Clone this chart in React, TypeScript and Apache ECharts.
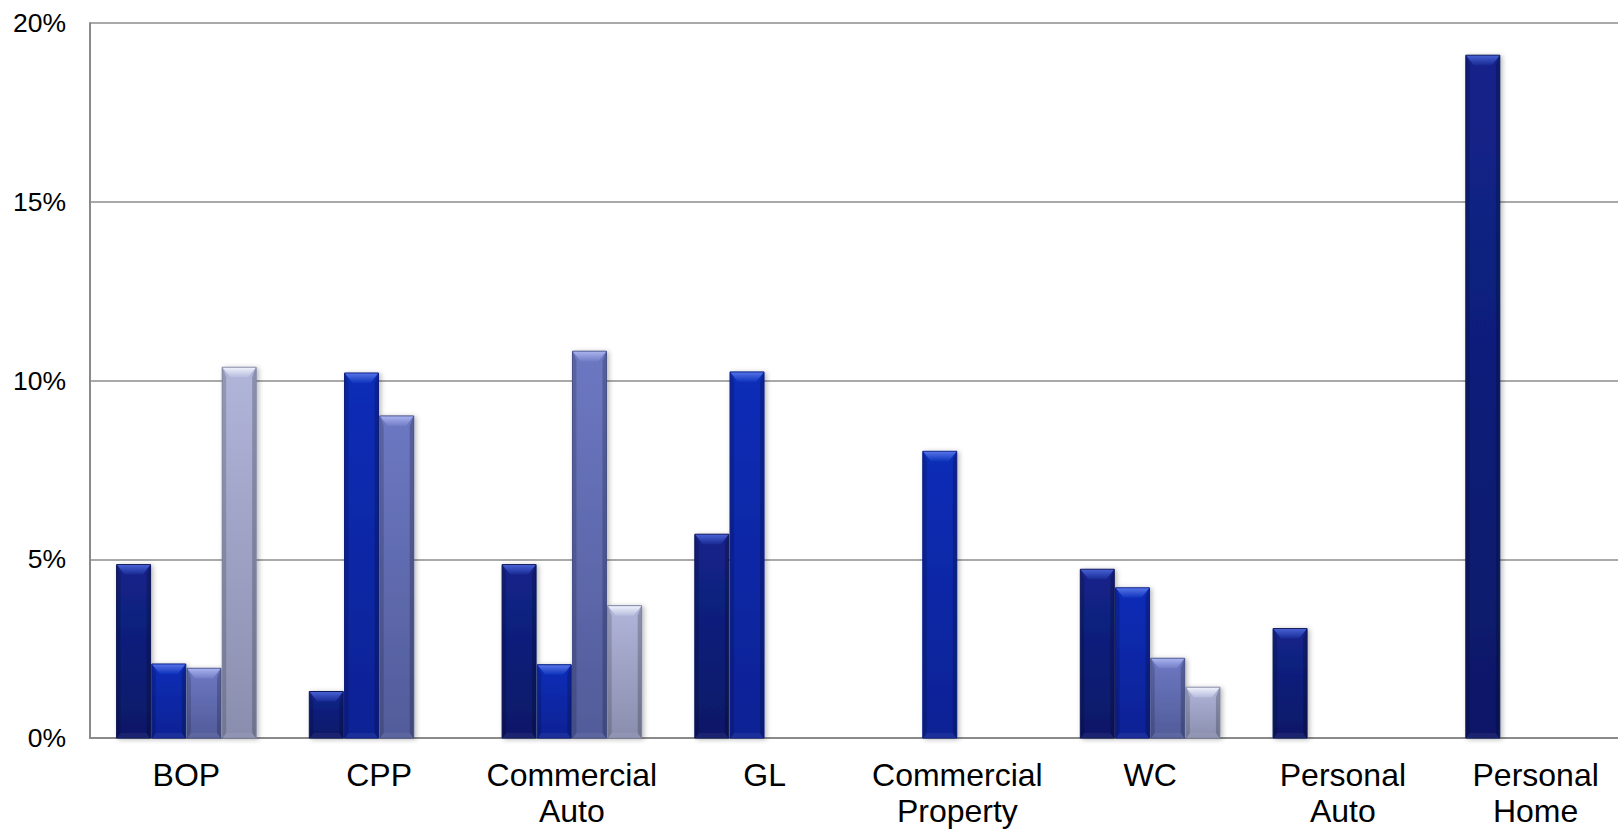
import React, { useEffect, useRef } from "react";
import * as echarts from "echarts";

// Lines of business on the x axis
const categories = [
  "BOP",
  "CPP",
  "Commercial\nAuto",
  "GL",
  "Commercial\nProperty",
  "WC",
  "Personal\nAuto",
  "Personal\nHome",
];

// Percent values per series (null = no bar)
const series1 = [4.85, 1.3, 4.85, 5.7, null, 4.72, 3.06, 19.1];
const series2 = [2.07, 10.21, 2.05, 10.24, 8.02, 4.2, null, null];
const series3 = [1.95, 9.01, 10.82, null, null, 2.23, null, null];
const series4 = [10.37, null, 3.7, null, null, 1.42, null, null];

const seriesNames = ["Series 1", "Series 2", "Series 3", "Series 4"];

// Y axis range and step
const yMin = 0;
const yMax = 20;
const yStep = 5;

const BAR_W = 34;
const BAR_GAP = 1.2;
const BEVEL = 10;
const BEVEL_INSET = 8;
const SIDE = 4;

type Palette = { top: string; bottom: string; border: string; hiTop: string; hiBottom: string };

const palettes: Palette[] = [
  { top: "#13248a", bottom: "#0b1866", border: "#0a1456", hiTop: "#4660d2", hiBottom: "#182a94" },
  { top: "#0a2db8", bottom: "#082294", border: "#081c80", hiTop: "#5572e6", hiBottom: "#0e34bc" },
  { top: "#6c78c2", bottom: "#525c9a", border: "#465088", hiTop: "#a8b2ee", hiBottom: "#727ec6" },
  { top: "#b0b5da", bottom: "#8a8eae", border: "#7c809c", hiTop: "#eef0fc", hiBottom: "#b6bcdc" },
];

const makeRender = (slot: number, pal: Palette) => (_params: any, api: any) => {
  const cat = api.value(0);
  const val = api.value(1);
  const base = api.coord([cat, 0]);
  const tip = api.coord([cat, val]);
  const x = base[0] + (slot - 1.5) * (BAR_W + BAR_GAP) - BAR_W / 2;
  const y0 = base[1];
  const y1 = tip[1];
  const h = y0 - y1;
  const bev = Math.min(BEVEL, h / 2);
  const inset = Math.min(BEVEL_INSET, (bev / BEVEL) * BEVEL_INSET);
  return {
    type: "group",
    children: [
      {
        type: "rect",
        shape: { x, y: y1, width: BAR_W, height: h },
        style: {
          fill: new echarts.graphic.LinearGradient(0, 0, 0, 1, [
            { offset: 0, color: pal.top },
            { offset: 1, color: pal.bottom },
          ]),
          stroke: pal.border,
          lineWidth: 1,
          shadowBlur: 5,
          shadowColor: "rgba(0,0,0,0.28)",
          shadowOffsetX: 2,
          shadowOffsetY: 1,
        },
      },
      {
        type: "polygon",
        shape: {
          points: [
            [x + 0.5, y1 + 0.5],
            [x + SIDE, y1 + bev],
            [x + SIDE, y0 - bev / 2],
            [x + 0.5, y0],
          ],
        },
        style: { fill: "rgba(0,0,0,0.16)" },
      },
      {
        type: "polygon",
        shape: {
          points: [
            [x + BAR_W - 0.5, y1 + 0.5],
            [x + BAR_W - SIDE, y1 + bev],
            [x + BAR_W - SIDE, y0 - bev / 2],
            [x + BAR_W - 0.5, y0],
          ],
        },
        style: { fill: "rgba(0,0,0,0.2)" },
      },
      {
        type: "polygon",
        shape: {
          points: [
            [x + 0.5, y1 + 0.5],
            [x + BAR_W - 0.5, y1 + 0.5],
            [x + BAR_W - inset, y1 + bev],
            [x + inset, y1 + bev],
          ],
        },
        style: {
          fill: new echarts.graphic.LinearGradient(0, 0, 0, 1, [
            { offset: 0, color: pal.hiTop },
            { offset: 1, color: pal.hiBottom },
          ]),
        },
      },
      {
        type: "polygon",
        shape: {
          points: [
            [x + 0.5, y0],
            [x + BAR_W - 0.5, y0],
            [x + BAR_W - inset / 2, y0 - bev / 2],
            [x + inset / 2, y0 - bev / 2],
          ],
        },
        style: { fill: "rgba(255,255,255,0.06)" },
      },
    ],
  };
};

const toData = (vals: (number | null)[]) =>
  vals.map((v, i) => (v == null ? null : [i, v])).filter((d) => d !== null);

export default function App() {
  const ref = useRef<HTMLDivElement>(null);

  useEffect(() => {
    if (!ref.current) return;
    const chart = echarts.init(ref.current, undefined, { renderer: "svg" });
    const all = [series1, series2, series3, series4];
    const font = "'Liberation Sans', Arial, sans-serif";
    chart.setOption({
      animation: false,
      backgroundColor: "#ffffff",
      grid: { left: 90, top: 23, width: 1542, height: 715, containLabel: false },
      xAxis: {
        type: "category",
        data: categories,
        axisLine: { show: true, lineStyle: { color: "#8a8a8a", width: 2 } },
        axisTick: { show: false },
        axisLabel: {
          color: "#000000",
          fontSize: 32,
          lineHeight: 36,
          margin: 19,
          fontFamily: font,
          interval: 0,
        },
      },
      yAxis: {
        type: "value",
        min: yMin,
        max: yMax,
        interval: yStep,
        axisLine: { show: true, lineStyle: { color: "#8a8a8a", width: 2 } },
        axisTick: { show: false },
        splitLine: { show: true, lineStyle: { color: "#8c8c8c", width: 1.5 } },
        axisLabel: {
          color: "#000000",
          fontSize: 26.5,
          margin: 24,
          fontFamily: font,
          formatter: "{value}%",
        },
      },
      series: all.map((vals, i) => ({
        type: "custom",
        name: seriesNames[i],
        renderItem: makeRender(i, palettes[i]),
        encode: { x: 0, y: 1 },
        data: toData(vals),
        clip: false,
      })),
    });
    return () => chart.dispose();
  }, []);

  return (
    <div
      style={{
        position: "fixed",
        left: 0,
        top: 0,
        width: 1618,
        height: 829,
        overflow: "hidden",
        background: "#fff",
      }}
    >
      <div ref={ref} style={{ width: 1660, height: 829 }} />
    </div>
  );
}
